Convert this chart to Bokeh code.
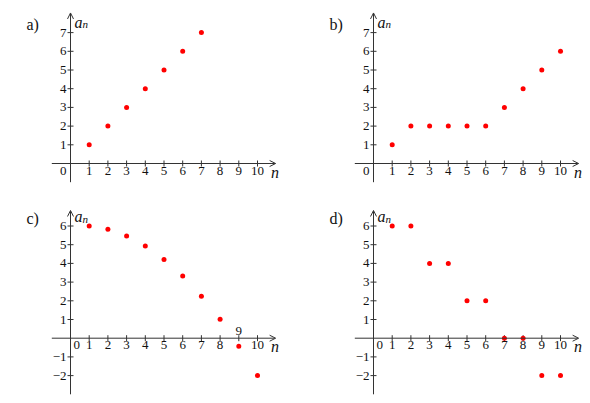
import math
from bokeh.plotting import figure
from bokeh.layouts import gridplot
from bokeh.models import Arrow, OpenHead, Range1d
from bokeh.core.properties import value
from bokeh.embed import file_html
from bokeh.resources import INLINE

# ---------------- data ----------------
panel_names = ["a)", "b)", "c)", "d)"]
n_a = [1, 2, 3, 4, 5, 6, 7]
a_vals = [1, 2, 3, 4, 5, 6, 7]
n_b = [1, 2, 3, 4, 5, 6, 7, 8, 9, 10]
b_vals = [1, 2, 2, 2, 2, 2, 3, 4, 5, 6]
n_c = [1, 2, 3, 4, 5, 6, 7, 8, 9, 10]
c_vals = [6.0, 5.82, 5.46, 4.93, 4.21, 3.32, 2.25, 1.02, -0.43, -2.0]
n_d = [1, 2, 3, 4, 5, 6, 7, 8, 9, 10]
d_vals = [6, 6, 4, 4, 2, 2, 0, 0, -2, -2]

x_ticks = [1, 2, 3, 4, 5, 6, 7, 8, 9, 10]
y_ticks_top = [1, 2, 3, 4, 5, 6, 7]
y_ticks_bottom = [-2, -1, 1, 2, 3, 4, 5, 6]

# ---------------- style / layout ----------------
U = 18.7          # pixels per unit
OX = 70           # y-axis position from figure's left edge
FONT = "Liberation Serif"
TXT = "#111111"
AX = "#333333"
RED = "#ff0000"


def fmt(v):
    return str(v) if v >= 0 else "\u2212" + str(-v)


def panel(name, xs, ys, yticks, W, H, oy, ymin_axis, ytip, an_y, label_above=None,
          zero_right=False):
    p = figure(width=W, height=H, output_backend="svg", toolbar_location=None,
               x_axis_type=None, y_axis_type=None, min_border=0,
               x_range=Range1d(-OX / U, (W - OX) / U),
               y_range=Range1d(-(H - oy) / U, oy / U))
    p.outline_line_color = None
    p.background_fill_color = "white"
    p.border_fill_color = "white"

    # axes with arrows
    p.add_layout(Arrow(end=OpenHead(size=6, line_color=AX, line_width=1),
                       x_start=-1, y_start=0, x_end=10.97, y_end=0,
                       line_color=AX, line_width=1))
    p.add_layout(Arrow(end=OpenHead(size=6, line_color=AX, line_width=1),
                       x_start=0, y_start=ymin_axis, x_end=0, y_end=ytip,
                       line_color=AX, line_width=1))

    # ticks
    p.scatter(x=x_ticks, y=[0] * len(x_ticks), marker="dash", size=6,
              angle=math.pi / 2, line_color=AX, line_width=1)
    p.scatter(x=[0] * len(yticks), y=yticks, marker="dash", size=6,
              line_color=AX, line_width=1)

    # x tick labels
    below = [t for t in x_ticks if t != label_above]
    p.text(x=below, y=[0] * len(below), text=[str(t) for t in below],
           y_offset=3, text_align="center", text_baseline="top",
           text_font=value(FONT), text_font_size="13px", text_color=TXT)
    if label_above is not None:
        p.text(x=[label_above], y=[0], text=[str(label_above)], y_offset=-3,
               text_align="center", text_baseline="bottom",
               text_font=value(FONT), text_font_size="13px", text_color=TXT)
    # y tick labels
    p.text(x=[0] * len(yticks), y=yticks, text=[fmt(t) for t in yticks],
           x_offset=-4, text_align="right", text_baseline="middle",
           text_font=value(FONT), text_font_size="13px", text_color=TXT)
    # origin label
    if zero_right:
        p.text(x=[0], y=[0], text=["0"], x_offset=3, y_offset=3,
               text_align="left", text_baseline="top",
               text_font=value(FONT), text_font_size="13px", text_color=TXT)
    else:
        p.text(x=[0], y=[0], text=["0"], x_offset=-4, y_offset=3,
               text_align="right", text_baseline="top",
               text_font=value(FONT), text_font_size="13px", text_color=TXT)

    # axis names
    p.text(x=[10.72], y=[0], text=["n"], y_offset=0, text_align="left",
           text_baseline="top", text_font=value(FONT), text_font_size="16px",
           text_font_style="italic", text_color=TXT)
    p.text(x=[0], y=[an_y], text=["a"], x_offset=4, text_align="left",
           text_baseline="alphabetic", text_font=value(FONT),
           text_font_size="16px", text_font_style="italic", text_color=TXT)
    p.text(x=[0], y=[an_y], text=["n"], x_offset=12, y_offset=2,
           text_align="left", text_baseline="alphabetic", text_font=value(FONT),
           text_font_size="11px", text_font_style="italic", text_color=TXT)

    # panel label
    p.text(x=[-OX / U], y=[an_y], text=[name], x_offset=26, y_offset=2,
           text_align="left", text_baseline="alphabetic",
           text_font=value(FONT), text_font_size="16px", text_color=TXT)

    # data points
    p.scatter(x=xs, y=ys, size=5, fill_color=RED, line_color=None)
    return p


W1, W2 = 303, 287
H1, H2 = 197, 206
OY1, OY2 = 163, 140.7

pa = panel(panel_names[0], n_a, a_vals, y_ticks_top, W1, H1, OY1, -1, 8.05, 7.55)
pb = panel(panel_names[1], n_b, b_vals, y_ticks_top, W2, H1, OY1, -1, 8.05, 7.55)
pc = panel(panel_names[2], n_c, c_vals, y_ticks_bottom, W1, H2, OY2, -3, 6.83, 6.5,
           label_above=9, zero_right=True)
pd = panel(panel_names[3], n_d, d_vals, y_ticks_bottom, W2, H2, OY2, -3, 6.83, 6.5,
           zero_right=True)

grid = gridplot([[pa, pb], [pc, pd]], toolbar_location=None)

open("out.html", "w").write(file_html(grid, INLINE))
